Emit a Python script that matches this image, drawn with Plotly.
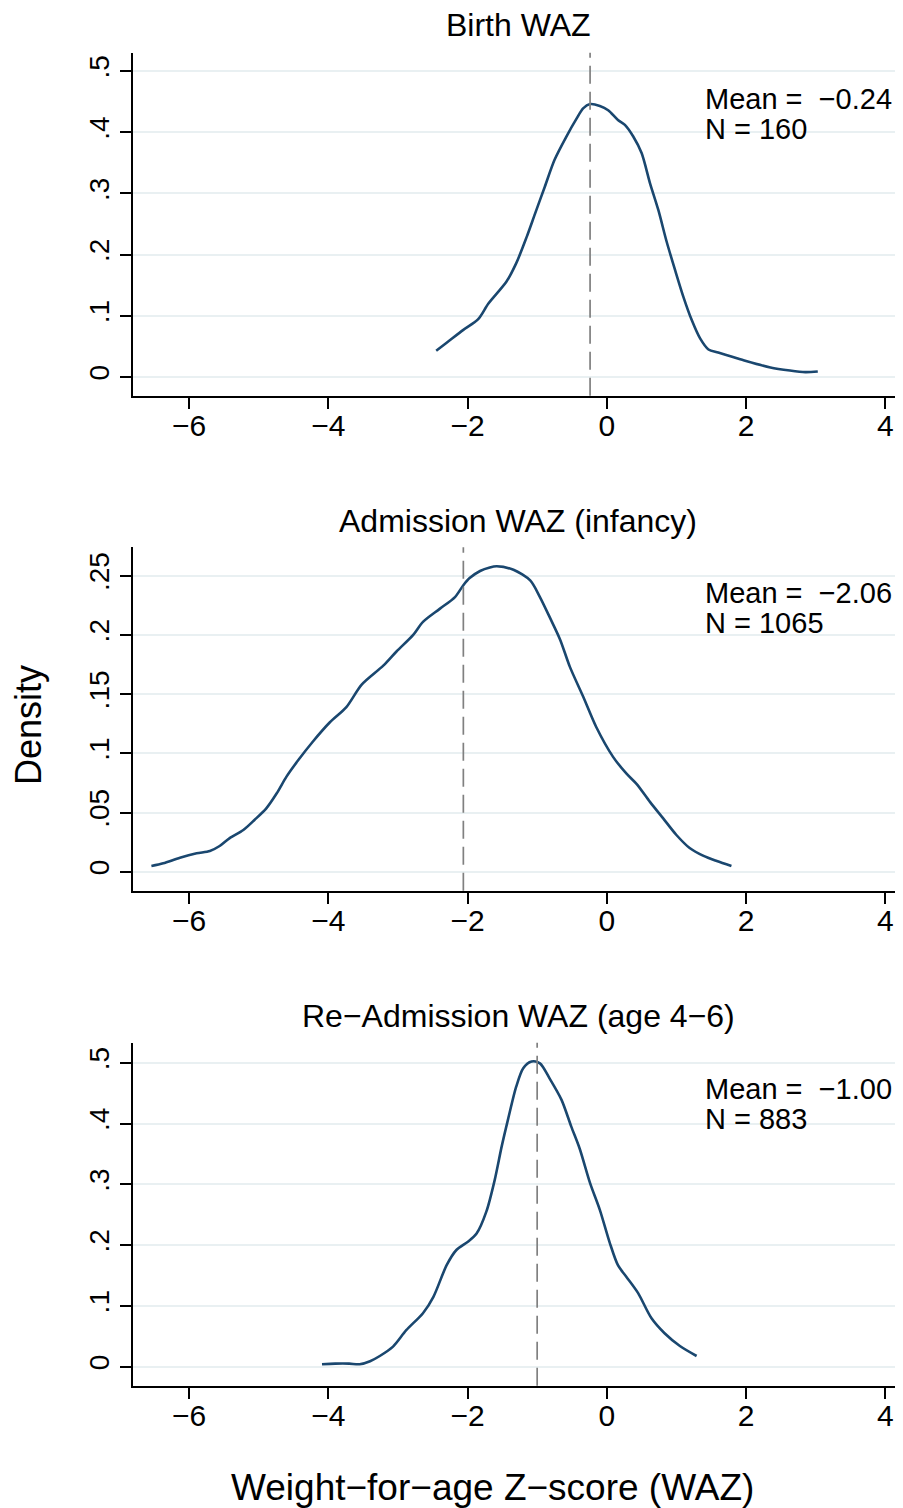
import plotly.graph_objects as go

# ---------------- data ----------------
titles = ["Birth WAZ", "Admission WAZ (infancy)", "Re\u2212Admission WAZ (age 4\u22126)"]
means = [-0.24, -2.06, -1.00]
ns = [160, 1065, 883]

birth_x = [-2.45, -2.30, -2.06, -1.85, -1.70, -1.44, -1.30, -1.15, -1.03, -0.89, -0.75, -0.58,
           -0.43, -0.34, -0.24, -0.10, 0.02, 0.16, 0.26, 0.38, 0.50, 0.62, 0.74, 0.86, 0.98,
           1.10, 1.22, 1.34, 1.46, 1.60, 1.80, 2.00, 2.35, 2.63, 2.85, 3.03]
birth_y = [0.043, 0.056, 0.077, 0.094, 0.120, 0.156, 0.186, 0.229, 0.267, 0.311, 0.355, 0.393,
           0.423, 0.439, 0.446, 0.443, 0.436, 0.420, 0.412, 0.393, 0.366, 0.317, 0.273, 0.221,
           0.175, 0.131, 0.093, 0.063, 0.045, 0.040, 0.033, 0.026, 0.0155, 0.0106, 0.008, 0.009]

adm_x = [-6.54, -6.37, -6.13, -5.89, -5.70, -5.56, -5.42, -5.22, -5.06, -4.89, -4.74, -4.60,
         -4.43, -4.22, -3.98, -3.74, -3.52, -3.21, -3.02, -2.78, -2.64, -2.40, -2.18, -2.06,
         -1.97, -1.82, -1.68, -1.58, -1.34, -1.10, -0.96, -0.82, -0.67, -0.53, -0.34, -0.15,
         0.09, 0.28, 0.43, 0.62, 0.81, 1.00, 1.19, 1.39, 1.58, 1.79]
adm_y = [0.0048, 0.0071, 0.0118, 0.0155, 0.0175, 0.0217, 0.0282, 0.0352, 0.0437, 0.0535, 0.0662,
         0.0803, 0.0943, 0.110, 0.126, 0.139, 0.158, 0.174, 0.186, 0.200, 0.211, 0.222, 0.232,
         0.242, 0.248, 0.254, 0.257, 0.258, 0.255, 0.246, 0.232, 0.215, 0.196, 0.173, 0.148,
         0.122, 0.097, 0.083, 0.074, 0.059, 0.045, 0.031, 0.020, 0.0133, 0.0090, 0.0048]

readm_x = [-4.09, -3.90, -3.70, -3.55, -3.40, -3.26, -3.07, -2.88, -2.64, -2.49, -2.30, -2.16,
           -1.99, -1.87, -1.73, -1.61, -1.51, -1.42, -1.30, -1.20, -1.08, -0.96, -0.82, -0.65,
           -0.51, -0.39, -0.24, -0.10, 0.045, 0.16, 0.28, 0.45, 0.64, 0.83, 1.05, 1.29]
readm_y = [0.004, 0.005, 0.005, 0.004, 0.009, 0.0176, 0.033, 0.060, 0.088, 0.115, 0.167, 0.192,
           0.206, 0.219, 0.255, 0.307, 0.362, 0.406, 0.461, 0.491, 0.502, 0.499, 0.474, 0.439,
           0.395, 0.359, 0.302, 0.258, 0.203, 0.167, 0.148, 0.121, 0.080, 0.055, 0.034, 0.0176]

series_x = [birth_x, adm_x, readm_x]
series_y = [birth_y, adm_y, readm_y]

x_ticks = [-6, -4, -2, 0, 2, 4]
x_ticktext = ["\u22126", "\u22124", "\u22122", "0", "2", "4"]
y_ticks = [[0, 0.1, 0.2, 0.3, 0.4, 0.5],
           [0, 0.05, 0.1, 0.15, 0.2, 0.25],
           [0, 0.1, 0.2, 0.3, 0.4, 0.5]]
y_ticktext = [["0", ".1", ".2", ".3", ".4", ".5"],
              ["0", ".05", ".1", ".15", ".2", ".25"],
              ["0", ".1", ".2", ".3", ".4", ".5"]]
y_ranges = [[-0.0306, 0.530], [-0.01605, 0.274], [-0.03125, 0.533]]
x_range = [-6.80, 4.254]

# ---------------- layout ----------------
OFF = 8  # page body margin
W, H = 903 - OFF, 1508 - OFF
FONT = "Liberation Sans, Arial, Helvetica, sans-serif"
LINE_COLOR = "#1a476f"
GRID = "#e9f0f2"

def py(p):
    return 1 - (p - OFF) / H

def px(p):
    return (p - OFF) / W

panel_px = [(52.7, 395.7), (547.3, 890.7), (1042.7, 1385.7)]
title_px = [25, 521, 1016]
x_dom = [px(133.3), 1.0]

fig = go.Figure()
layout = dict(
    width=W, height=H,
    margin=dict(l=0, r=0, t=0, b=0),
    paper_bgcolor="white", plot_bgcolor="white",
    showlegend=False,
    font=dict(family=FONT, color="black", size=29),
)
annotations = []
shapes = []

for i in range(3):
    xa = "x" if i == 0 else f"x{i+1}"
    ya = "y" if i == 0 else f"y{i+1}"
    top, bot = panel_px[i]
    fig.add_trace(go.Scatter(
        x=series_x[i], y=series_y[i], mode="lines",
        line=dict(color=LINE_COLOR, width=2.6, shape="spline", smoothing=0.8),
        xaxis=xa, yaxis=ya, hoverinfo="skip"))
    layout["xaxis" if i == 0 else f"xaxis{i+1}"] = dict(
        domain=x_dom, anchor=ya, range=x_range,
        tickmode="array", tickvals=x_ticks, ticktext=x_ticktext,
        ticks="outside", ticklen=11, tickwidth=1.7, tickcolor="black",
        ticklabelstandoff=-9,
        showline=True, linecolor="black", linewidth=1.7,
        showgrid=False, zeroline=False,
        tickfont=dict(size=30, family=FONT, color="black"),
    )
    layout["yaxis" if i == 0 else f"yaxis{i+1}"] = dict(
        domain=[py(bot), py(top)], anchor=xa, range=y_ranges[i],
        tickmode="array", tickvals=y_ticks[i], ticktext=y_ticktext[i],
        ticks="outside", ticklen=11, tickwidth=1.7, tickcolor="black",
        showline=True, linecolor="black", linewidth=1.7,
        showgrid=True, gridcolor=GRID, gridwidth=2, zeroline=False,
        tickangle=-90,
        tickfont=dict(size=28, family=FONT, color="black"),
    )
    shapes.append(dict(
        type="line", xref=xa, yref=f"{ya} domain",
        x0=means[i], x1=means[i], y0=0, y1=1,
        line=dict(color="#808080", width=1.7, dash="18px,8px")))
    annotations.append(dict(
        text=titles[i], xref="paper", yref="paper",
        x=(x_dom[0] + x_dom[1]) / 2, y=py(title_px[i]),
        xanchor="center", yanchor="middle", showarrow=False,
        font=dict(size=32, family=FONT, color="black")))
    mean_str = f"{means[i]:.2f}".replace("-", "\u2212")
    annotations.append(dict(
        text=f"Mean =\u00a0 {mean_str}", xref="paper", yref="paper",
        x=px(703), y=py(top + 46), xanchor="left", yanchor="middle",
        showarrow=False, font=dict(size=29, family=FONT, color="black")))
    annotations.append(dict(
        text=f"N = {ns[i]}", xref="paper", yref="paper",
        x=px(703), y=py(top + 76), xanchor="left", yanchor="middle",
        showarrow=False, font=dict(size=29, family=FONT, color="black")))

annotations.append(dict(
    text="Weight\u2212for\u2212age Z\u2212score (WAZ)", xref="paper", yref="paper",
    x=px(492.5), y=py(1487), xanchor="center", yanchor="middle", showarrow=False,
    font=dict(size=37, family=FONT, color="black")))
annotations.append(dict(
    text="Density", xref="paper", yref="paper", textangle=-90,
    x=px(28), y=py(725), xanchor="center", yanchor="middle", showarrow=False,
    font=dict(size=36, family=FONT, color="black")))

layout["annotations"] = annotations
layout["shapes"] = shapes
fig.update_layout(**layout)
fig.write_html("out.html")
